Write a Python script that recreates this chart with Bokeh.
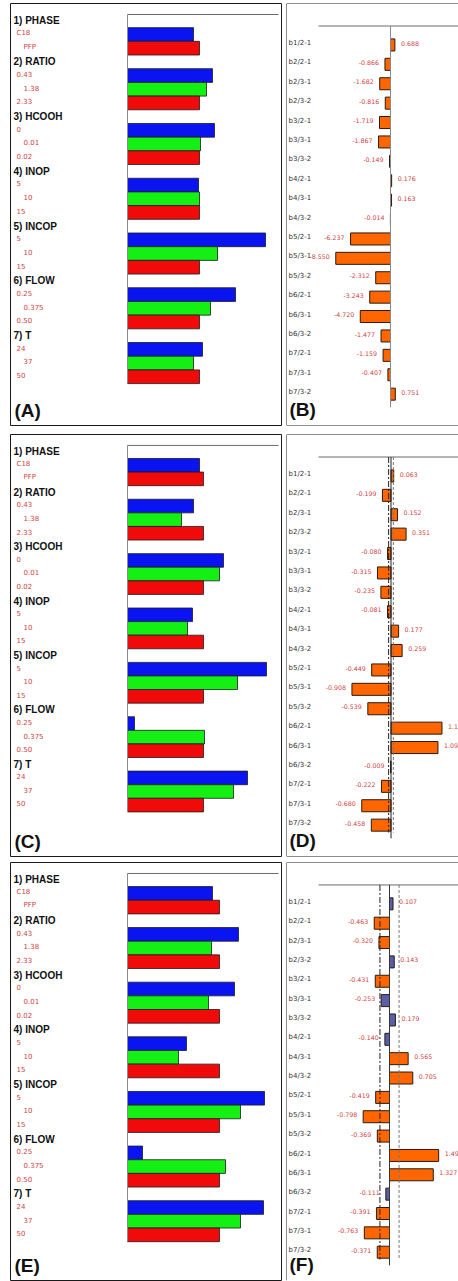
from bokeh.plotting import figure
from bokeh.layouts import column, row
from bokeh.models import Range1d, Span
from bokeh.core.properties import value
from bokeh.embed import file_html
from bokeh.resources import INLINE

# ---------------- data ----------------
groups = ["1) PHASE", "2) RATIO", "3) HCOOH", "4) INOP", "5) INCOP", "6) FLOW", "7) T"]
levels = [["C18", "PFP"], ["0.43", "1.38", "2.33"], ["0", "0.01", "0.02"],
          ["5", "10", "15"], ["5", "10", "15"], ["0.25", "0.375", "0.50"], ["24", "37", "50"]]

A_vals = [[66, 72], [85, 79, 72], [87, 73, 72], [71, 72, 72], [138, 90, 72], [108, 83, 72], [75, 66, 72]]
C_vals = [[72, 76], [66, 54, 76], [96, 92, 76], [65, 60, 76], [139, 110, 76], [7, 77, 76], [120, 106, 76]]
E_vals = [[85, 92], [111, 84, 92], [107, 81, 92], [59, 51, 92], [137, 113, 92], [15, 98, 92], [136, 113, 92]]

terms = ["b1/2-1", "b2/2-1", "b2/3-1", "b2/3-2", "b3/2-1", "b3/3-1", "b3/3-2", "b4/2-1", "b4/3-1",
         "b4/3-2", "b5/2-1", "b5/3-1", "b5/3-2", "b6/2-1", "b6/3-1", "b6/3-2", "b7/2-1", "b7/3-1", "b7/3-2"]
B_coef = [0.688, -0.866, -1.682, -0.816, -1.719, -1.867, -0.149, 0.176, 0.163, -0.014,
          -6.237, -8.550, -2.312, -3.243, -4.720, -1.477, -1.159, -0.407, 0.751]
D_coef = [0.063, -0.199, 0.152, 0.351, -0.080, -0.315, -0.235, -0.081, 0.177, 0.259,
          -0.449, -0.908, -0.539, 1.186, 1.092, -0.009, -0.222, -0.680, -0.458]
F_coef = [0.107, -0.463, -0.320, 0.143, -0.431, -0.253, 0.179, -0.140, 0.565, 0.705,
          -0.419, -0.798, -0.369, 1.490, 1.327, -0.111, -0.391, -0.763, -0.371]
D_limit = 0.055
F_limit = 0.29

# ---------------- style ----------------
BLUE, GREEN, RED = "#0a14f0", "#14f014", "#f00a0a"
ORANGE, SLATE = "#ff6600", "#5a60a8"
LBL_RED = "#cf3f3f"
DARK = "#1a1a1a"
SANS = value("Liberation Sans")
SMALL = value("DejaVu Sans")


def base_fig(w, h, xr, yr, left, right, top, bottom):
    p = figure(width=w, height=h, x_range=xr, y_range=yr, output_backend="svg",
               toolbar_location=None, x_axis_location=None, y_axis_location=None,
               title=None, min_border=0)
    p.min_border_left = left
    p.min_border_right = right
    p.min_border_top = top
    p.min_border_bottom = bottom
    p.grid.visible = False
    p.background_fill_color = "white"
    p.border_fill_color = "white"
    return p


LP, LTOP = 13.69, 17.3


def left_panel(vals, letter, h, top, bottom):
    fh = h - top - bottom
    zero = 117
    p = base_fig(283, h, Range1d(-zero, 271 - zero), Range1d((fh - LTOP) / LP, -LTOP / LP),
                 10, 2, top, bottom)
    p.outline_line_color = DARK
    hx, hy, ht, lx, ly, lt, by, bv, bc = [], [], [], [], [], [], [], [], []
    s = 0
    for g, lv, vv in zip(groups, levels, vals):
        hx.append(-zero + 3); hy.append(s); ht.append(g)
        s += 1
        pal = [BLUE, RED] if len(lv) == 2 else [BLUE, GREEN, RED]
        for k, (l, v) in enumerate(zip(lv, vv)):
            lx.append(-zero + (13 if k == 1 else 6)); ly.append(s - 0.12); lt.append(l)
            by.append(s); bv.append(v); bc.append(pal[k])
            s += 1
    top_y = (11 - LTOP) / LP
    p.segment(x0=[0], y0=[top_y], x1=[151], y1=[top_y], line_color="#6a6a6a", line_width=1)
    p.hbar(y=by, left=0, right=bv, height=1.0, fill_color=bc, line_color=DARK, line_width=0.8)
    p.segment(x0=[0], y0=[top_y], x1=[0], y1=[s - 0.5], line_color="#8a8a8a", line_width=1)
    p.text(x=hx, y=hy, text=ht, text_font=SANS, text_font_style="bold", text_font_size="10px",
           text_color="#111111", text_baseline="middle", text_align="left")
    p.text(x=lx, y=ly, text=lt, text_font=SMALL, text_font_size="7px",
           text_color=LBL_RED, text_baseline="middle", text_align="left")
    p.text(x=[-zero + 4], y=[(fh - 15.5 - LTOP) / LP], text=[letter], text_font=SANS,
           text_font_style="bold", text_font_size="19px", text_color="#111111",
           text_baseline="middle", text_align="left")
    return p


RP, RTOP = 19.4, 39.5


def right_panel(coef, letter, h, top, bottom, scale, zero, zcolor, limit=None, box_bottom=True):
    fh = h - top - bottom
    fw = 172
    x0, x1 = -zero / scale, (fw - zero) / scale
    y_bot, y_top = (fh - RTOP) / RP, -RTOP / RP
    p = base_fig(175, h, Range1d(x0, x1), Range1d(y_bot, y_top), 3, 0, top, bottom)
    p.outline_line_color = None
    p.add_layout(Span(location=x0, dimension="height", line_color=DARK, line_width=1))
    p.add_layout(Span(location=y_top, dimension="width", line_color=DARK, line_width=1))
    if box_bottom:
        p.add_layout(Span(location=y_bot, dimension="width", line_color=DARK, line_width=1))
    rows = list(range(len(terms)))
    if limit is None:
        cols = [ORANGE] * len(coef)
    else:
        cols = [ORANGE if abs(c) > limit else SLATE for c in coef]
    axis_y = (22.5 - RTOP) / RP
    end_y = len(terms) - 1 + 0.78
    p.segment(x0=[x0 + 32 / scale], y0=[axis_y], x1=[x1], y1=[axis_y], line_color="#6a6a6a", line_width=1)
    p.hbar(y=[r + 0.1 for r in rows], left=0, right=coef, height=0.62, fill_color=cols,
           line_color="#2a1a10", line_width=1)
    p.segment(x0=[0], y0=[axis_y], x1=[0], y1=[end_y], line_color=zcolor, line_width=1)
    if limit is not None:
        p.segment(x0=[-limit], y0=[axis_y], x1=[-limit], y1=[end_y - 0.3], line_color="#222222",
                  line_width=1, line_dash="6 2 2 2")
        p.segment(x0=[limit], y0=[axis_y], x1=[limit], y1=[end_y - 0.3], line_color="#777777",
                  line_width=1, line_dash="3 2")
    p.text(x=[x0 + 2 / scale] * len(terms), y=rows, text=terms, text_font=SMALL, text_font_size="7px",
           text_color="#333333", text_baseline="middle", text_align="left")
    pos = [i for i, c in enumerate(coef) if c >= 0]
    neg = [i for i, c in enumerate(coef) if c < 0]
    p.text(x=[coef[i] for i in pos], y=pos, text=["%.3f" % coef[i] for i in pos], x_offset=6,
           text_font=SMALL, text_font_size="6.3px", text_color=LBL_RED, text_baseline="middle",
           text_align="left")
    p.text(x=[coef[i] for i in neg], y=neg, text=["%.3f" % coef[i] for i in neg], x_offset=-6,
           text_font=SMALL, text_font_size="6.3px", text_color=LBL_RED, text_baseline="middle",
           text_align="right")
    p.text(x=[x0 + 3 / scale], y=[(fh - 16 - RTOP) / RP], text=[letter], text_font=SANS,
           text_font_style="bold", text_font_size="19px", text_color="#111111",
           text_baseline="middle", text_align="left")
    return p


pA = left_panel(A_vals, "(A)", 428, 3, 3)
pB = right_panel(B_coef, "(B)", 428, 3, 3, 6.4, 104, "#8a8a8a")
pC = left_panel(C_vals, "(C)", 430, 3, 2)
pD = right_panel(D_coef, "(D)", 430, 6, 2, 43.0, 104.5, "#222222", limit=D_limit)
pE = left_panel(E_vals, "(E)", 423, 3, 1)
pF = right_panel(F_coef, "(F)", 423, 4, 0, 33.0, 103, "#333333", limit=F_limit, box_bottom=False)

layout = column(row(pA, pB), row(pC, pD), row(pE, pF))
open("out.html", "w").write(file_html(layout, INLINE))
